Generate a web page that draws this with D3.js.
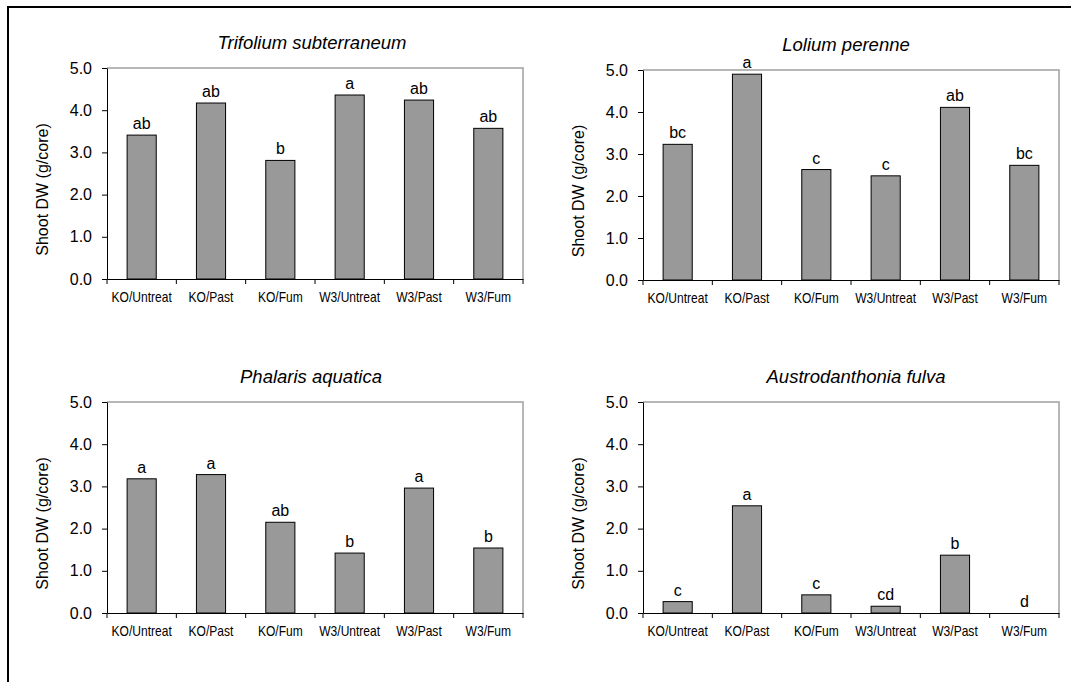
<!DOCTYPE html>
<html>
<head>
<meta charset="utf-8">
<script src="https://cdn.jsdelivr.net/npm/d3@7/dist/d3.min.js"></script>
<style>
  html, body { margin: 0; padding: 0; background: #fff; }
  svg { display: block; }
  text { font-family: "Liberation Sans", Arial, "DejaVu Sans", sans-serif; fill: #000; }
</style>
</head>
<body>
<svg id="chart" width="1071" height="682"></svg>
<script>
// ---- data ----
const categories = ["KO/Untreat", "KO/Past", "KO/Fum", "W3/Untreat", "W3/Past", "W3/Fum"];
const speciesNames = ["Trifolium subterraneum", "Lolium perenne", "Phalaris aquatica", "Austrodanthonia fulva"];
const trifoliumValues = [3.41, 4.17, 2.81, 4.36, 4.24, 3.57];
const loliumValues = [3.23, 4.90, 2.63, 2.48, 4.11, 2.73];
const phalarisValues = [3.18, 3.28, 2.15, 1.42, 2.96, 1.54];
const austrodanthoniaValues = [0.27, 2.54, 0.43, 0.16, 1.37, 0.0];
const trifoliumLetters = ["ab", "ab", "b", "a", "ab", "ab"];
const loliumLetters = ["bc", "a", "c", "c", "ab", "bc"];
const phalarisLetters = ["a", "a", "ab", "b", "a", "b"];
const austrodanthoniaLetters = ["c", "a", "c", "cd", "b", "d"];
const yTicks = [0, 1, 2, 3, 4, 5];
const yLabel = "Shoot DW (g/core)";

const seriesValues = [trifoliumValues, loliumValues, phalarisValues, austrodanthoniaValues];
const seriesLetters = [trifoliumLetters, loliumLetters, phalarisLetters, austrodanthoniaLetters];

// ---- layout ----
const panels = [
  { x0: 107, x1: 523, y0: 68, y1: 279, tdx: -3 },
  { x0: 643, x1: 1059, y0: 70, y1: 280, tdx: -5 },
  { x0: 107, x1: 523, y0: 402, y1: 613, tdx: -4 },
  { x0: 643, x1: 1059, y0: 402, y1: 613, tdx: 5 }
];

const svg = d3.select("#chart");

// outer frame (top + left)
svg.append("path")
  .attr("d", "M8,682V7H1071")
  .attr("fill", "none")
  .attr("stroke", "#000")
  .attr("stroke-width", 2);

panels.forEach((p, i) => {
  const values = seriesValues[i];
  const letters = seriesLetters[i];
  const g = svg.append("g");

  const x = d3.scaleBand().domain(categories).range([p.x0, p.x1])
    .paddingInner(0.58).paddingOuter(0.29);
  const y = d3.scaleLinear().domain([0, 5]).range([p.y1, p.y0]);

  // gray top/right border
  g.append("path")
    .attr("d", `M${p.x0},${p.y0}H${p.x1}V${p.y1}`)
    .attr("fill", "none")
    .attr("stroke", "#a0a0a0")
    .attr("stroke-width", 1.5);

  // bars
  g.selectAll("rect.bar").data(values).join("rect")
    .attr("class", "bar")
    .attr("x", (d, j) => x(categories[j]))
    .attr("width", x.bandwidth())
    .attr("y", d => y(d))
    .attr("height", d => y(0) - y(d))
    .attr("fill", "#999999")
    .attr("stroke", d => d > 0 ? "#000" : "none")
    .attr("stroke-width", 1);

  // significance letters
  g.selectAll("text.sig").data(letters).join("text")
    .attr("class", "sig")
    .attr("x", (d, j) => x(categories[j]) + x.bandwidth() / 2)
    .attr("y", (d, j) => y(values[j]) - 6)
    .attr("text-anchor", "middle")
    .style("font-size", "16px")
    .text(d => d);

  // y axis
  const yAxis = d3.axisLeft(y).tickValues(yTicks).tickFormat(d3.format(".1f"))
    .tickSize(5).tickSizeOuter(0).tickPadding(10);
  const ya = g.append("g").attr("transform", `translate(${p.x0},0)`).call(yAxis);
  ya.select(".domain").attr("stroke", "#000");
  ya.selectAll("line").attr("stroke", "#000");
  ya.selectAll("text").style("font-size", "16px").attr("fill", "#000")
    .style("font-family", "'Liberation Sans', Arial, sans-serif");

  // x axis
  const xAxis = d3.axisBottom(x).tickSize(0).tickSizeOuter(0).tickPadding(0);
  const xa = g.append("g").attr("transform", `translate(0,${p.y1})`).call(xAxis);
  xa.select(".domain").attr("stroke", "#000");
  xa.selectAll(".tick text")
    .attr("y", 0).attr("dy", 0)
    .attr("transform", "translate(0,23) scale(0.86,1)")
    .style("font-size", "14px")
    .style("font-family", "'Liberation Sans', Arial, sans-serif")
    .attr("fill", "#000");
  // boundary tick marks
  const boundaries = d3.range(categories.length + 1).map(k => p.x0 + k * x.step());
  xa.selectAll("line.bt").data(boundaries).join("line")
    .attr("class", "bt")
    .attr("x1", d => d).attr("x2", d => d)
    .attr("y1", 0).attr("y2", 5)
    .attr("stroke", "#000");

  // y label
  const cy = (p.y0 + p.y1) / 2 + 16;
  g.append("text")
    .attr("transform", `translate(${p.x0 - 59},${cy}) rotate(-90)`)
    .attr("text-anchor", "middle")
    .style("font-size", "16px")
    .text(yLabel);

  // title
  g.append("text")
    .attr("x", (p.x0 + p.x1) / 2 + p.tdx)
    .attr("y", p.y0 - 19)
    .attr("text-anchor", "middle")
    .style("font-size", "18.5px")
    .style("font-style", "italic")
    .text(speciesNames[i]);
});
</script>
</body>
</html>
